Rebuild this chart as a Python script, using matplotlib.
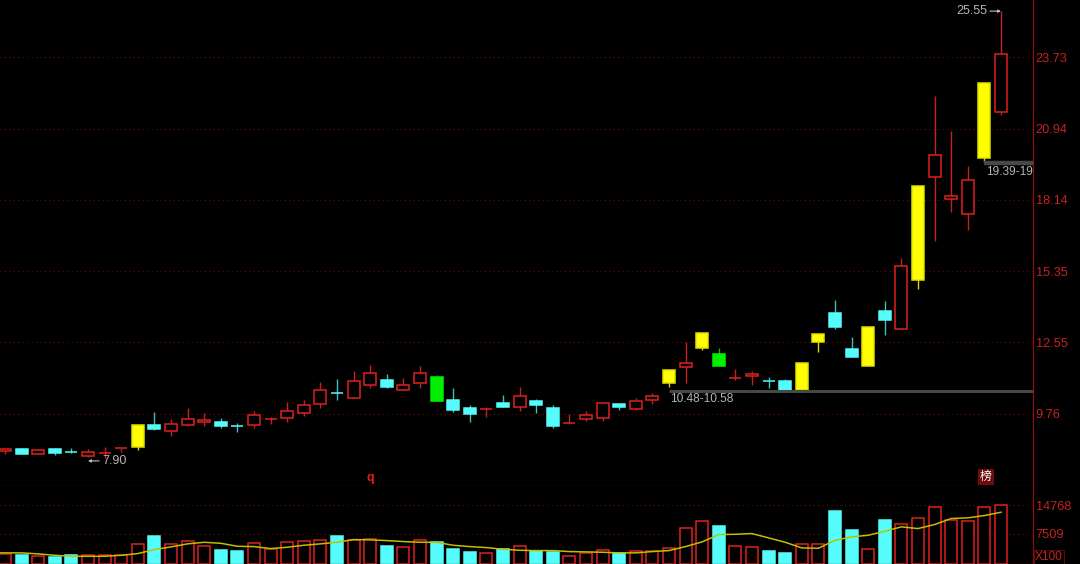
import matplotlib
matplotlib.use("Agg")
import matplotlib.pyplot as plt
import numpy as np

plt.rcParams['font.family'] = ['Liberation Sans', 'Noto Sans CJK SC', 'DejaVu Sans']

# candle colour: r = red hollow, c = cyan, y = yellow, g = green
kinds = list("rcrccrrryc" "rrrccrrrrr" "crrcrrgccr" "crccrrrcrr" "yrygrrccyy" "ccycryrrry" "r")
body_top = [8.36, 8.37, 8.32, 8.37, 8.24, 8.24, 8.20, 8.42, 9.30, 9.30, 9.36,
            9.54, 9.52, 9.44, 9.26, 9.70, 9.56, 9.85, 10.08, 10.69, 10.55, 11.05,
            11.34, 11.09, 10.89, 11.34, 11.20, 10.28, 9.96, 9.92, 10.16, 10.44,
            10.24, 9.96, 9.40, 9.70, 10.16, 10.12, 10.24, 10.44, 11.47, 11.73,
            12.93, 12.08, 11.14, 11.31, 11.05, 11.02, 11.73, 12.89, 13.69, 12.28,
            13.15, 13.77, 15.56, 18.68, 19.89, 18.31, 18.92, 22.72, 23.87]
body_bot = [8.28, 8.18, 8.18, 8.22, 8.24, 8.08, 8.20, 8.42, 8.46, 9.14, 9.09,
            9.30, 9.41, 9.26, 9.26, 9.30, 9.56, 9.57, 9.77, 10.12, 10.55, 10.38,
            10.88, 10.79, 10.68, 10.96, 10.26, 9.91, 9.75, 9.92, 10.03, 10.03,
            10.11, 9.26, 9.40, 9.53, 9.60, 10.03, 9.95, 10.28, 10.95, 11.57,
            12.32, 11.64, 11.14, 11.22, 11.05, 10.67, 10.67, 12.55, 13.17, 11.98,
            11.64, 13.44, 13.09, 15.00, 19.03, 18.19, 17.58, 19.80, 21.60]
high = [8.37, 8.41, 8.37, 8.41, 8.41, 8.37, 8.45, 8.42, 9.30, 9.83, 9.53,
        9.98, 9.78, 9.60, 9.38, 9.86, 9.63, 10.21, 10.29, 10.98, 11.10, 11.43,
        11.66, 11.32, 11.17, 11.62, 11.27, 10.75, 10.08, 10.02, 10.47, 10.79,
        10.32, 10.08, 9.74, 9.86, 10.16, 10.12, 10.36, 10.56, 11.47, 12.58,
        12.93, 12.32, 11.51, 11.43, 11.20, 11.10, 11.73, 12.89, 14.21, 12.75,
        13.15, 14.16, 15.85, 18.68, 22.22, 20.85, 19.47, 22.72, 25.55]
low = [8.18, 8.18, 8.18, 8.13, 8.21, 8.05, 8.01, 8.26, 8.33, 9.10, 8.88,
       9.26, 9.26, 9.18, 9.03, 9.18, 9.35, 9.41, 9.67, 9.98, 10.29, 10.38,
       10.76, 10.75, 10.68, 10.76, 10.26, 9.82, 9.44, 9.63, 10.03, 9.87,
       9.79, 9.18, 9.34, 9.48, 9.48, 9.91, 9.91, 10.13, 10.79, 10.95,
       12.26, 11.64, 11.09, 10.87, 10.75, 10.67, 10.67, 12.16, 13.09, 11.98,
       11.64, 12.84, 13.09, 14.66, 16.54, 17.68, 16.96, 19.64, 21.47]

vol_kinds = list("rcrccrrrrc" "rrrccrrrrr" "crrcrrcccr" "crccrrrcrr" "rrrcrrccrr" "ccrcrrrrrr" "r")
volume = [2436, 2259, 1929, 1675, 2183, 2081, 2081, 2183, 4873, 7005, 4873,
          5634, 4365, 3452, 3198, 5127, 3604, 5381, 5634, 6066, 6903, 6066,
          6320, 4467, 4112, 6066, 5482, 3705, 2944, 2589, 3604, 4365,
          3274, 3020, 1929, 2690, 3350, 2589, 3198, 3096, 3858, 9035,
          10812, 9619, 4365, 4112, 3198, 2690, 4873, 4873, 13350, 8604,
          3604, 11066, 10050, 11573, 14365, 11066, 10812, 14365, 14768]
# volume average, first value is the bar before the visible window
vol_ma = [2690, 2690, 2690, 2436, 2081, 1827, 1827, 1827, 2081, 2513, 3528, 4213,
          4975, 5381, 5127, 4365, 4289, 3782, 4112, 4619, 4975, 5381, 6066,
          5990, 5812, 5558, 5381, 5381, 4619, 4289, 4035, 3604, 3350,
          3274, 3274, 3020, 2944, 2843, 2690, 2690, 3020, 3274, 4289,
          5482, 7335, 7411, 7589, 6497, 5381, 3959, 3858, 5888, 6751,
          7157, 8172, 9289, 8857, 9873, 11396, 11573, 12157, 12994]

price_ticks = [23.73, 20.94, 18.14, 15.35, 12.55, 9.76]
vol_ticks = [14768, 7509]

colors = {"r": "#e02020", "c": "#54fcfc", "y": "#ffff00", "g": "#00f000"}
wick_colors = {"r": "#c82020", "c": "#3cc0c0", "y": "#d8d800", "g": "#00c000"}
grid_red = "#700808"
axis_red = "#8c1010"
label_red = "#c42222"
grey = "#b4b4b4"

fig = plt.figure(figsize=(10.8, 5.64), dpi=100, facecolor="black")
ax = fig.add_axes([0, 78.5 / 564, 1033 / 1080, 485.5 / 564], facecolor="black")
ax2 = fig.add_axes([0, 0.5 / 564, 1033 / 1080, 78 / 564], facecolor="black")

n = len(kinds)
idx = np.arange(n)
top = np.array(body_top)
bot = np.array(body_bot)

ax.vlines(idx, low, high, colors=[wick_colors[k] for k in kinds], lw=1.0, zorder=2)
for i in range(n):
    k = kinds[i]
    face = "black" if k == "r" else colors[k]
    ax.bar(i, top[i] - bot[i], bottom=bot[i], width=0.72, facecolor=face,
           edgecolor=colors[k] if k != "y" else "#e0e000", lw=1.1, zorder=3)

# support / resistance zones
ax.hlines(10.63, 40, 62, colors="#484848", lw=2.2, zorder=4)
ax.hlines(19.59, 59, 62, colors="#484848", lw=3.2, zorder=4)
ax.text(40.05, 10.33, "10.48-10.58", color=grey, fontsize=8.6, va="center", ha="left")
ax.text(59.08, 19.24, "19.39-19", color=grey, fontsize=8.6, va="center", ha="left")

ax.annotate("25.55", xy=(60, 25.55), xytext=(-10, 0), textcoords="offset points",
            color=grey, fontsize=9, ha="right", va="center",
            arrowprops=dict(arrowstyle="-|>", color="#c0c0c0", lw=0.8, shrinkA=0, shrinkB=0,
                            mutation_scale=4, relpos=(1, 0.5)))
ax.annotate("7.90", xy=(5, 7.90), xytext=(10, 0), textcoords="offset points",
            color=grey, fontsize=9, ha="left", va="center",
            arrowprops=dict(arrowstyle="-|>", color="#c0c0c0", lw=0.8, shrinkA=0, shrinkB=0,
                            mutation_scale=4, relpos=(0, 0.5)))

ax.text(22, 7.22, "q", color="#e02020", fontweight="bold", fontsize=9, ha="center", va="center")
ax.text(59.1, 7.27, "榜", color="white", fontsize=8.5, ha="center", va="center",
        bbox=dict(boxstyle="square,pad=0.18", facecolor="#6e0c0c", edgecolor="none"), zorder=5)

ax.set_xlim(-0.30, 61.93)
ax.set_ylim(6.935, 25.986)
ax.set_xticks([])
ax.set_yticks(price_ticks)
ax.yaxis.tick_right()
ax.tick_params(axis="y", length=0, pad=2, labelcolor=label_red, labelsize=9.2)
ax.set_yticklabels(["%.2f" % t for t in price_ticks])
ax.grid(axis="y", color=grid_red, ls=(0, (1, 3)), lw=0.8, zorder=1)
ax.set_axisbelow(True)

# volume panel
ax2.bar(idx, volume, width=0.72,
        facecolor=["black" if k == "r" else colors[k] for k in vol_kinds],
        edgecolor=[colors[k] for k in vol_kinds], lw=1.1, zorder=2)
ax2.plot(np.arange(-1, n), vol_ma, color="#c0c000", lw=1.1, zorder=3)
ax2.set_xlim(-0.30, 61.93)
ax2.set_ylim(0, 19771)
ax2.set_xticks([])
ax2.set_yticks(vol_ticks)
ax2.yaxis.tick_right()
ax2.tick_params(axis="y", length=0, pad=2, labelcolor=label_red, labelsize=9.2)
ax2.grid(axis="y", color=grid_red, ls=(0, (1, 3)), lw=0.8, zorder=1)
ax2.set_axisbelow(True)
ax2.annotate("X100", xy=(1.0, 0.01), xycoords="axes fraction", xytext=(1.5, 0), textcoords="offset points",
             color=label_red, fontsize=8.6, ha="left", va="bottom", annotation_clip=False,
             bbox=dict(boxstyle="square,pad=0.1", facecolor="black", edgecolor="#5a0808", lw=0.8))

for a in (ax, ax2):
    for side in a.spines:
        a.spines[side].set_visible(False)
    for side in ("right", "bottom"):
        a.spines[side].set_visible(True)
        a.spines[side].set_color(axis_red)
        a.spines[side].set_linewidth(0.9)

fig.savefig("out.png", dpi=100, facecolor="black")
